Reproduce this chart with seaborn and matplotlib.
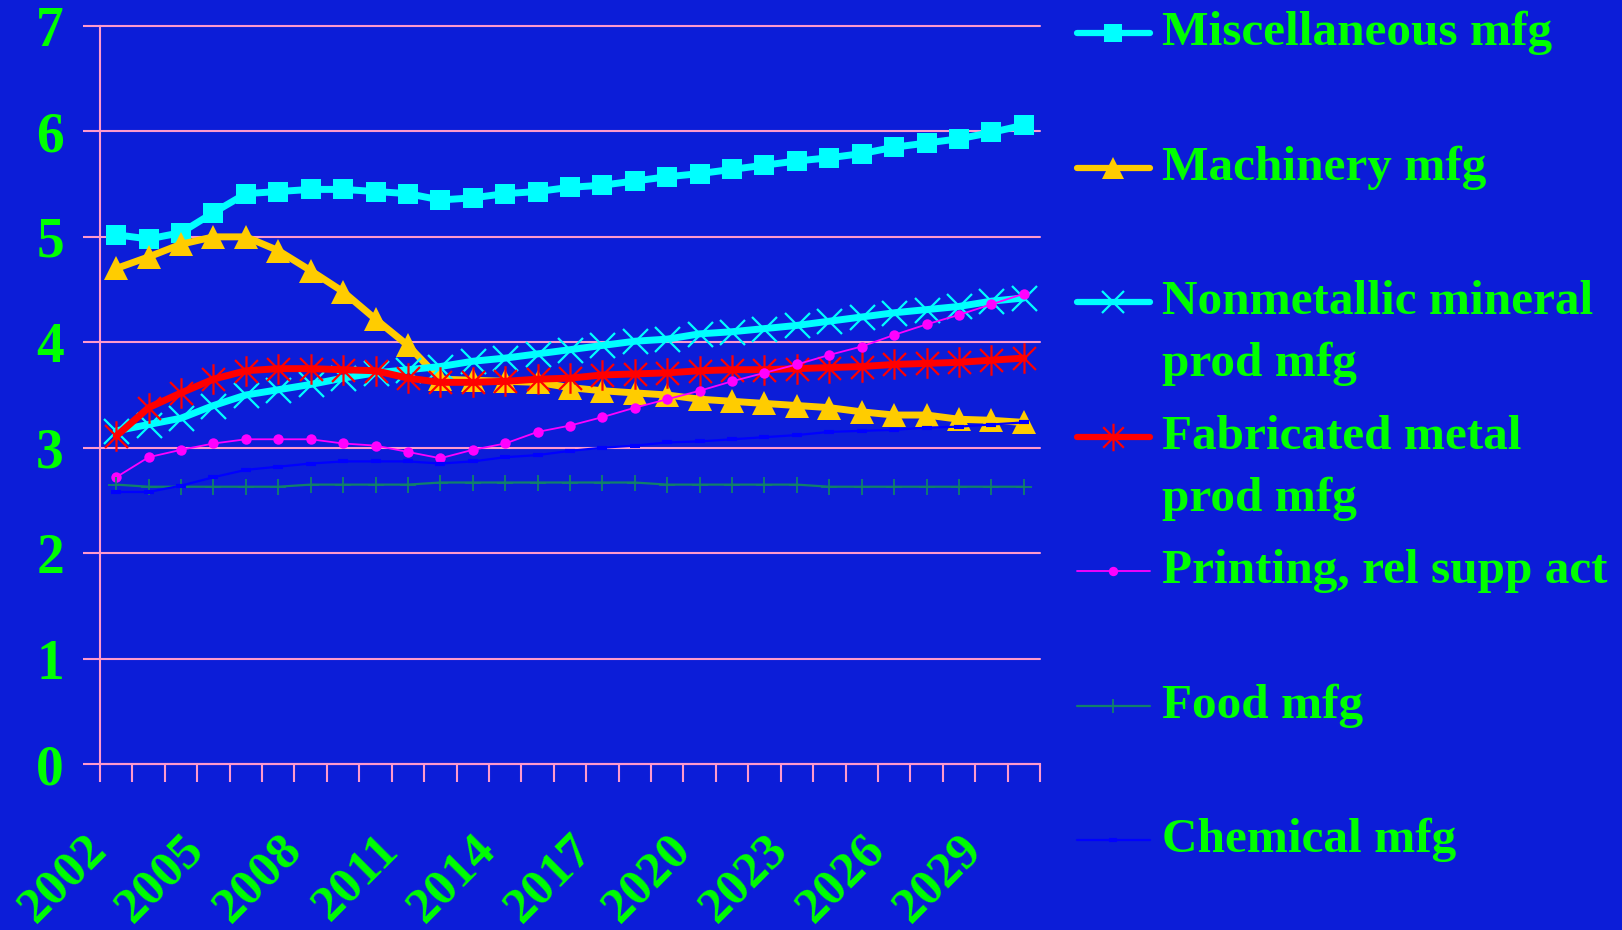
import matplotlib

matplotlib.use("Agg")
import matplotlib.pyplot as plt
import numpy as np
import seaborn as sns
from matplotlib.lines import Line2D
from matplotlib.path import Path

years = list(range(2002, 2031))

misc_mfg = [5.02, 4.98, 5.04, 5.23, 5.41, 5.43, 5.45, 5.45, 5.43, 5.41,
            5.35, 5.37, 5.41, 5.43, 5.47, 5.49, 5.53, 5.57, 5.60, 5.64,
            5.68, 5.72, 5.75, 5.79, 5.85, 5.89, 5.93, 5.99, 6.06]
machinery_mfg = [4.70, 4.81, 4.93, 5.00, 5.00, 4.87, 4.68, 4.48, 4.22, 3.97,
                 3.65, 3.64, 3.63, 3.62, 3.57, 3.54, 3.52, 3.50, 3.46, 3.44,
                 3.42, 3.40, 3.38, 3.34, 3.31, 3.31, 3.27, 3.26, 3.24]
nonmetallic_mfg = [3.16, 3.22, 3.28, 3.40, 3.50, 3.55, 3.60, 3.66, 3.71, 3.74,
                   3.77, 3.82, 3.85, 3.89, 3.93, 3.97, 4.01, 4.03, 4.08, 4.10,
                   4.13, 4.16, 4.20, 4.24, 4.28, 4.31, 4.34, 4.39, 4.42]
fabricated_mfg = [3.11, 3.38, 3.52, 3.65, 3.73, 3.75, 3.75, 3.74, 3.73, 3.66,
                  3.62, 3.62, 3.63, 3.65, 3.66, 3.69, 3.70, 3.71, 3.73, 3.74,
                  3.74, 3.75, 3.76, 3.77, 3.79, 3.80, 3.81, 3.83, 3.85]
printing = [2.72, 2.91, 2.98, 3.04, 3.08, 3.08, 3.08, 3.04, 3.02, 2.96,
            2.90, 2.98, 3.04, 3.15, 3.21, 3.29, 3.38, 3.46, 3.54, 3.63,
            3.71, 3.79, 3.88, 3.96, 4.07, 4.17, 4.26, 4.36, 4.46]
food_mfg = [2.65, 2.63, 2.63, 2.63, 2.63, 2.63, 2.65, 2.65, 2.65, 2.65,
            2.67, 2.67, 2.67, 2.67, 2.67, 2.67, 2.67, 2.65, 2.65, 2.65,
            2.65, 2.65, 2.63, 2.63, 2.63, 2.63, 2.63, 2.63, 2.63]
chemical_mfg = [2.58, 2.58, 2.64, 2.72, 2.79, 2.82, 2.85, 2.87, 2.87, 2.87,
                2.85, 2.87, 2.91, 2.93, 2.97, 3.00, 3.02, 3.05, 3.06, 3.08,
                3.10, 3.12, 3.15, 3.16, 3.17, 3.19, 3.20, 3.22, 3.24]

labels = [
    ["Miscellaneous mfg"],
    ["Machinery mfg"],
    ["Nonmetallic mineral", "prod mfg"],
    ["Fabricated metal", "prod mfg"],
    ["Printing, rel supp act"],
    ["Food mfg"],
    ["Chemical mfg"],
]

BG = "#0C1DD8"
PINK = "#FF99CC"
GREEN = "#00FF00"
W, H = 1622, 930

# asterisk: vertical bar plus an X
asterisk = Path(
    [(0, -1), (0, 1), (-0.75, -0.75), (0.75, 0.75), (-0.75, 0.75), (0.75, -0.75)],
    [Path.MOVETO, Path.LINETO] * 3,
)

styles = [
    dict(color="#00FFFF", lw=5, marker="s", ms=14, mfc="#00FFFF", mec="#00FFFF", mew=0),
    dict(color="#FFCC00", lw=5, marker="^", ms=17, mfc="#FFCC00", mec="#FFCC00", mew=0),
    dict(color="#00FFFF", lw=5, marker="x", ms=18, mfc="none", mec="#00FFFF", mew=1.6),
    dict(color="#FF0000", lw=5, marker=asterisk, ms=22, mfc="none", mec="#FF0000", mew=1.6),
    dict(color="#FF00FF", lw=1.3, marker="o", ms=7.5, mfc="#FF00FF", mec="#FF00FF", mew=0),
    dict(color="#11806A", lw=1.6, marker="+", ms=11, mfc="none", mec="#11806A", mew=1.3),
    dict(color="#0000FF", lw=1.6, marker="_", ms=7, mfc="none", mec="#0000FF", mew=3),
]
series = [misc_mfg, machinery_mfg, nonmetallic_mfg, fabricated_mfg,
          printing, food_mfg, chemical_mfg]

sns.set_theme(style="ticks")
plt.rcParams["font.family"] = ["Liberation Serif", "DejaVu Serif"]
plt.rcParams["font.weight"] = "bold"

fig = plt.figure(figsize=(W / 100, H / 100), dpi=100)
fig.patch.set_facecolor(BG)
ax = fig.add_axes([100 / W, (H - 764) / H, 940 / W, (764 - 26) / H])
ax.set_facecolor(BG)

for vals, st in zip(series, styles):
    sns.lineplot(
        x=years, y=vals, ax=ax, legend=False,
        color=st["color"], linewidth=st["lw"], marker=st["marker"],
        markersize=st["ms"], markerfacecolor=st["mfc"],
        markeredgecolor=st["mec"], markeredgewidth=st["mew"],
    )

ax.set_xlim(2001.5, 2030.5)
ax.set_ylim(0, 7)
ax.set_yticks(range(0, 8))
ax.set_xticks(years[::3])
ax.set_xticks(np.arange(2001.5, 2031, 1), minor=True)
ax.set_xticklabels([str(y) for y in years[::3]], rotation=45, ha="right",
                   fontsize=37, fontweight="bold", color=GREEN)
ax.set_yticklabels([str(v) for v in range(0, 8)], fontsize=40,
                   fontweight="bold", color=GREEN)
ax.tick_params(axis="x", which="major", length=0, pad=45)
ax.tick_params(axis="x", which="minor", length=13, width=1.5, color=PINK)
ax.tick_params(axis="y", length=12, width=1.5, color=PINK, pad=14)
ax.set_xlabel("")
ax.set_ylabel("")

ax.grid(False)
ax.yaxis.grid(True, color=PINK, linewidth=1.5)
for gl in ax.get_ygridlines():
    gl.set_clip_on(False)
for side in ["top", "right"]:
    ax.spines[side].set_visible(False)
for side in ["left", "bottom"]:
    ax.spines[side].set_color(PINK)
    ax.spines[side].set_linewidth(1.5)

# legend drawn by hand so the key sits on the first line of wrapped labels
slots = [33, 168, 302, 437, 571, 706, 840]
for lab, st, y in zip(labels, styles, slots):
    fy = 1 - y / H
    handle = Line2D(
        [1077 / W, 1113 / W, 1150 / W], [fy, fy, fy],
        transform=fig.transFigure, color=st["color"], linewidth=min(st["lw"], 4.5),
        marker=st["marker"], markersize=st["ms"] * 0.9, markevery=[1],
        markerfacecolor=st["mfc"], markeredgecolor=st["mec"],
        markeredgewidth=st["mew"], solid_capstyle="round",
    )
    fig.add_artist(handle)
    for k, line in enumerate(lab):
        fig.text(1162 / W, 1 - (y + 62 * k) / H, line, color=GREEN,
                 fontsize=35.5, fontweight="bold", va="center", ha="left")

fig.savefig("out.png", dpi=100, facecolor=BG)
